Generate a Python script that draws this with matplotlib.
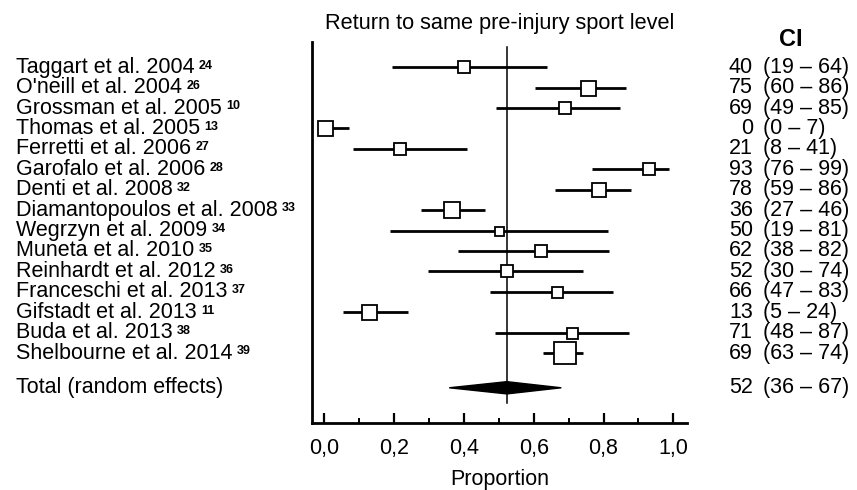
import matplotlib.pyplot as plt
import matplotlib.transforms as mtransforms
from matplotlib.patches import Polygon
from matplotlib.ticker import MultipleLocator, FuncFormatter

plt.rcParams['font.family'] = ['Liberation Sans', 'DejaVu Sans']

# estudios y referencias
estudios = ["Taggart et al. 2004", "O'neill et al. 2004", "Grossman et al. 2005",
            "Thomas et al. 2005", "Ferretti et al. 2006", "Garofalo et al. 2006",
            "Denti et al. 2008", "Diamantopoulos et al. 2008", "Wegrzyn et al. 2009",
            "Muneta et al. 2010", "Reinhardt et al. 2012", "Franceschi et al. 2013",
            "Gifstadt et al. 2013", "Buda et al. 2013", "Shelbourne et al. 2014"]
refs = ["24", "26", "10", "13", "27", "28", "32", "33", "34", "35", "36", "37", "11", "38", "39"]

# valores dibujados (proporcion)
prop = [0.40, 0.755, 0.69, 0.003, 0.218, 0.929, 0.788, 0.366, 0.50, 0.622, 0.524, 0.667, 0.128, 0.711, 0.69]
ci_lo = [0.194, 0.605, 0.492, 0.0, 0.083, 0.768, 0.662, 0.277, 0.187, 0.384, 0.298, 0.476, 0.053, 0.49, 0.627]
ci_hi = [0.638, 0.863, 0.848, 0.072, 0.41, 0.988, 0.88, 0.461, 0.814, 0.817, 0.742, 0.828, 0.241, 0.874, 0.742]
peso = [12, 15, 12, 15, 12, 12, 14, 16, 9, 12, 12, 11, 15, 11, 22]  # tamano del cuadrado (px)

# textos de la columna CI
ci_est = ["40", "75", "69", "0", "21", "93", "78", "36", "50", "62", "52", "66", "13", "71", "69"]
ci_rng = ["(19 – 64)", "(60 – 86)", "(49 – 85)", "(0 – 7)", "(8 – 41)", "(76 – 99)", "(59 – 86)",
          "(27 – 46)", "(19 – 81)", "(38 – 82)", "(30 – 74)", "(47 – 83)", "(5 – 24)",
          "(48 – 87)", "(63 – 74)"]

# total (efectos aleatorios)
total_est, total_lo, total_hi = 0.523, 0.358, 0.679
total_txt = ("52", "(36 – 67)")

# ================================
# Figura
# ================================
W, H = 857, 490
fig = plt.figure(figsize=(W / 100, H / 100), dpi=100)
ax = fig.add_axes([312 / W, 1 - 422.7 / H, (687 - 312) / W, (422.7 - 41.7) / H])

y_total = 15.7
ax.set_xlim(-0.035, 1.039)
ax.set_ylim(17.41, -1.25)

# linea vertical del total
ax.plot([total_est, total_est], [-0.99, 16.46], color='black', lw=1.1, zorder=1)

for i in range(len(estudios)):
    ax.plot([ci_lo[i], ci_hi[i]], [i, i], color='black', lw=2.0, solid_capstyle='butt', zorder=2)
    ax.plot(prop[i], i, marker='s', markersize=peso[i] * 0.72, markerfacecolor='white',
            markeredgecolor='black', markeredgewidth=1.3, zorder=3)

dh = 0.3
diamante = Polygon([(total_lo, y_total), (total_est, y_total - dh), (total_hi, y_total),
                    (total_est, y_total + dh)], closed=True, facecolor='black', edgecolor='black', zorder=3)
ax.add_patch(diamante)

# ejes
for s in ['top', 'right']:
    ax.spines[s].set_visible(False)
ax.spines['left'].set_linewidth(2)
ax.spines['bottom'].set_linewidth(2)
ax.set_yticks([])
ax.xaxis.set_major_locator(MultipleLocator(0.2))
ax.xaxis.set_minor_locator(MultipleLocator(0.1))
ax.xaxis.set_major_formatter(FuncFormatter(lambda v, p: f"{v:.1f}".replace('.', ',')))
ax.tick_params(axis='x', which='major', direction='in', length=7, width=1.6, labelsize=15.5, pad=11)
ax.tick_params(axis='x', which='minor', direction='in', length=3.5, width=1.4)
ax.set_xlabel("Proportion", fontsize=15.5, labelpad=7)
ax.set_title("Return to same pre-injury sport level", fontsize=15.7, pad=9)

# textos laterales
trans = mtransforms.blended_transform_factory(fig.transFigure, ax.transData)
for i in range(len(estudios)):
    t = ax.text(16 / W, i, estudios[i], transform=trans, fontsize=15.5, va='center', ha='left')
    ax.annotate(refs[i], xy=(1, 1), xycoords=t, xytext=(3, -2), textcoords='offset points',
                fontsize=9, fontweight='bold', va='top', ha='left')
    ax.text(753 / W, i, ci_est[i], transform=trans, fontsize=15.5, va='center', ha='right')
    ax.text(763 / W, i, ci_rng[i], transform=trans, fontsize=15.5, va='center', ha='left')

ax.text(16 / W, y_total, "Total (random effects)", transform=trans, fontsize=15.5, va='center', ha='left')
ax.text(753 / W, y_total, total_txt[0], transform=trans, fontsize=15.5, va='center', ha='right')
ax.text(763 / W, y_total, total_txt[1], transform=trans, fontsize=15.5, va='center', ha='left')

fig.text(791 / W, 1 - 40 / H, "CI", fontsize=17, fontweight='bold', ha='center', va='center')

fig.savefig("out.png", dpi=100)
